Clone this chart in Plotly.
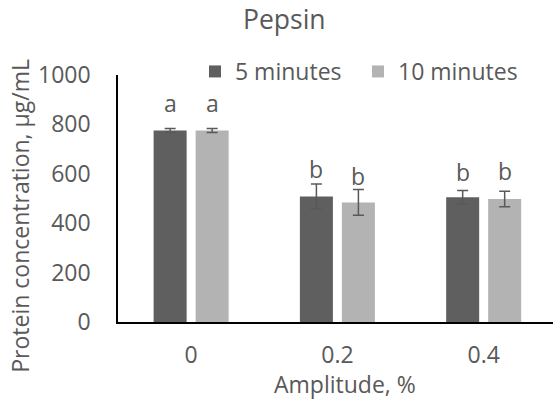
import plotly.graph_objects as go

# Pepsin: protein concentration after sonication at different amplitudes
amplitudes = ["0", "0.2", "0.4"]
series_names = ["5 minutes", "10 minutes"]
conc_5min = [775, 508, 505]
conc_10min = [775, 484, 498]
err_5min = [8, 51, 27]
err_10min = [8, 52, 31]
letters_5min = ["a", "b", "b"]
letters_10min = ["a", "b", "b"]

FONT = "Open Sans"
TEXT = "#595959"
COLORS = ["#5f5f5f", "#b3b3b3"]
BARGAP = 0.4256
GROUPGAP = 0.214

fig = go.Figure()
for name, vals, errs, color in zip(series_names, [conc_5min, conc_10min],
                                   [err_5min, err_10min], COLORS):
    fig.add_trace(go.Bar(
        name=name, x=amplitudes, y=vals, marker_color=color,
        marker_line_width=0,
        error_y=dict(type="data", array=errs, visible=True,
                     color="#595959", thickness=1.5, width=5.5),
    ))

# significance letters above each error bar
slot = (1 - BARGAP) / 2
offsets = [-slot / 2, slot / 2]
label_gap = [[17, 6, 10], [17, 5, 11]]  # px between error-bar top and letter baseline
for s, (vals, errs, letters) in enumerate(zip([conc_5min, conc_10min],
                                              [err_5min, err_10min],
                                              [letters_5min, letters_10min])):
    for i in range(len(amplitudes)):
        fig.add_annotation(
            x=i + offsets[s], y=vals[i] + errs[i], xref="x", yref="y",
            text=letters[i], showarrow=False, yanchor="bottom",
            yshift=label_gap[s][i] - 9,
            font=dict(family=FONT, size=23, color=TEXT),
        )

# axis titles
fig.add_annotation(x=-0.2253, y=0.43, xref="paper", yref="paper",
                   text="Protein concentration, µg/mL", textangle=-90,
                   showarrow=False, xanchor="center", yanchor="middle",
                   font=dict(family=FONT, size=23, color=TEXT))
fig.add_annotation(x=(345 - 118) / 435, y=-0.251, xref="paper", yref="paper",
                   text="Amplitude, %", showarrow=False,
                   xanchor="center", yanchor="middle",
                   font=dict(family=FONT, size=23, color=TEXT))

fig.update_layout(
    width=553, height=400,
    margin=dict(l=118, r=0, t=75, b=78),
    paper_bgcolor="white", plot_bgcolor="white",
    barmode="group", bargap=BARGAP, bargroupgap=GROUPGAP,
    font=dict(family=FONT, size=23, color=TEXT),
    title=dict(text="Pepsin", x=284.3 / 553, xanchor="center",
               xref="container", y=0.95, yref="container", yanchor="middle",
               font=dict(family=FONT, size=26.5, color=TEXT)),
    legend=dict(orientation="h", x=0.177, xanchor="left",
                y=1.0142, yanchor="middle", entrywidth=118,
                font=dict(family=FONT, size=23, color=TEXT),
                bgcolor="rgba(0,0,0,0)"),
    xaxis=dict(type="category", range=[-0.5, 2.474], showgrid=False,
               showline=True, linecolor="black", linewidth=2,
               ticks="", ticklabelstandoff=11),
    yaxis=dict(range=[0, 1000], tickvals=[0, 200, 400, 600, 800, 1000],
               showgrid=False, zeroline=False, showline=True,
               linecolor="black", linewidth=1.5, ticks="",
               ticklabelstandoff=21),
)

fig.write_html("out.html")
